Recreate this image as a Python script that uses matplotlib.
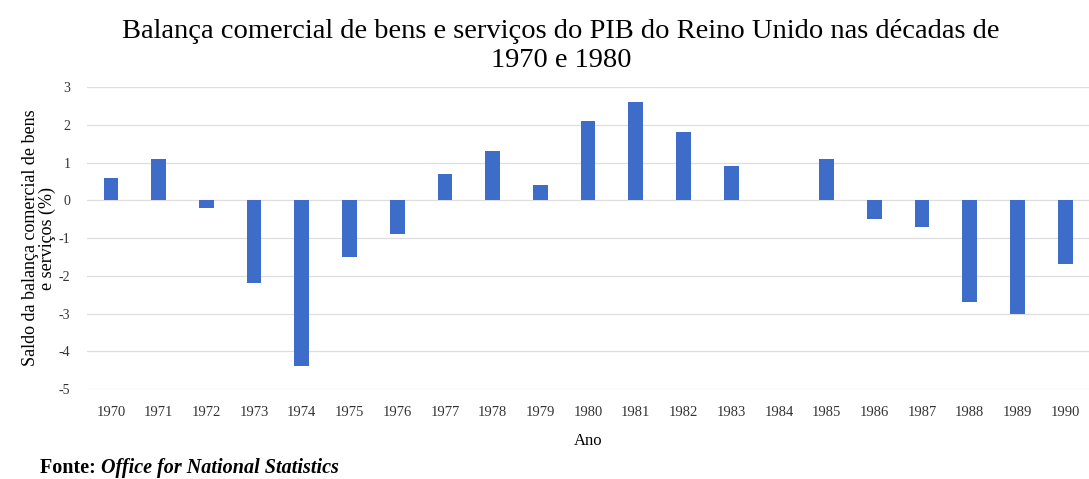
import numpy as np
import matplotlib
matplotlib.use("Agg")
import matplotlib.pyplot as plt

plt.rcParams['font.family'] = ['Liberation Serif', 'DejaVu Serif']

# data
anos = [str(a) for a in range(1970, 1991)]
saldo = [0.6, 1.1, -0.2, -2.2, -4.4, -1.5, -0.9, 0.7, 1.3, 0.4,
         2.1, 2.6, 1.8, 0.9, 0.0, 1.1, -0.5, -0.7, -2.7, -3.0, -1.7]
y_ticks = [3, 2, 1, 0, -1, -2, -3, -4, -5]

fig = plt.figure(figsize=(10.89, 4.79), dpi=100)
ax = fig.add_axes([0.08, 0.188, 0.92, 0.630])

x = np.arange(len(anos))
ax.bar(x, saldo, width=0.31, color='#3d6cc9', zorder=3)

ax.set_ylim(-5, 3)
ax.set_xlim(-0.5, 20.5)
ax.set_yticks(y_ticks)
ax.set_yticklabels([str(t) for t in y_ticks])
ax.set_xticks(x)
ax.set_xticklabels(anos)
ax.tick_params(axis='both', length=0, colors='#333333')
ax.tick_params(axis='y', pad=12, labelsize=10)
ax.tick_params(axis='x', pad=12, labelsize=10.5)

ax.yaxis.grid(True, color='#dedede', linewidth=0.9, zorder=0)
for s in ax.spines.values():
    s.set_visible(False)

ax.set_xlabel('Ano', fontsize=12, labelpad=10)
ax.set_ylabel('Saldo da balança comercial de bens\ne serviços (%)',
              fontsize=13, labelpad=2, linespacing=1.0)

fig.suptitle('Balança comercial de bens e serviços do PIB do Reino Unido nas décadas de\n1970 e 1980',
             x=0.515, y=0.96, fontsize=20.5, linespacing=1.2)

t = fig.text(0.037, 0.012, 'Fonte: ', fontsize=14.5, fontweight='bold')
fig.canvas.draw()
ax.annotate('Office for National Statistics', xy=(1, 0), xycoords=t,
            fontsize=14.5, fontweight='bold', fontstyle='italic',
            va='bottom', ha='left', annotation_clip=False)

fig.savefig('out.png', dpi=100)
